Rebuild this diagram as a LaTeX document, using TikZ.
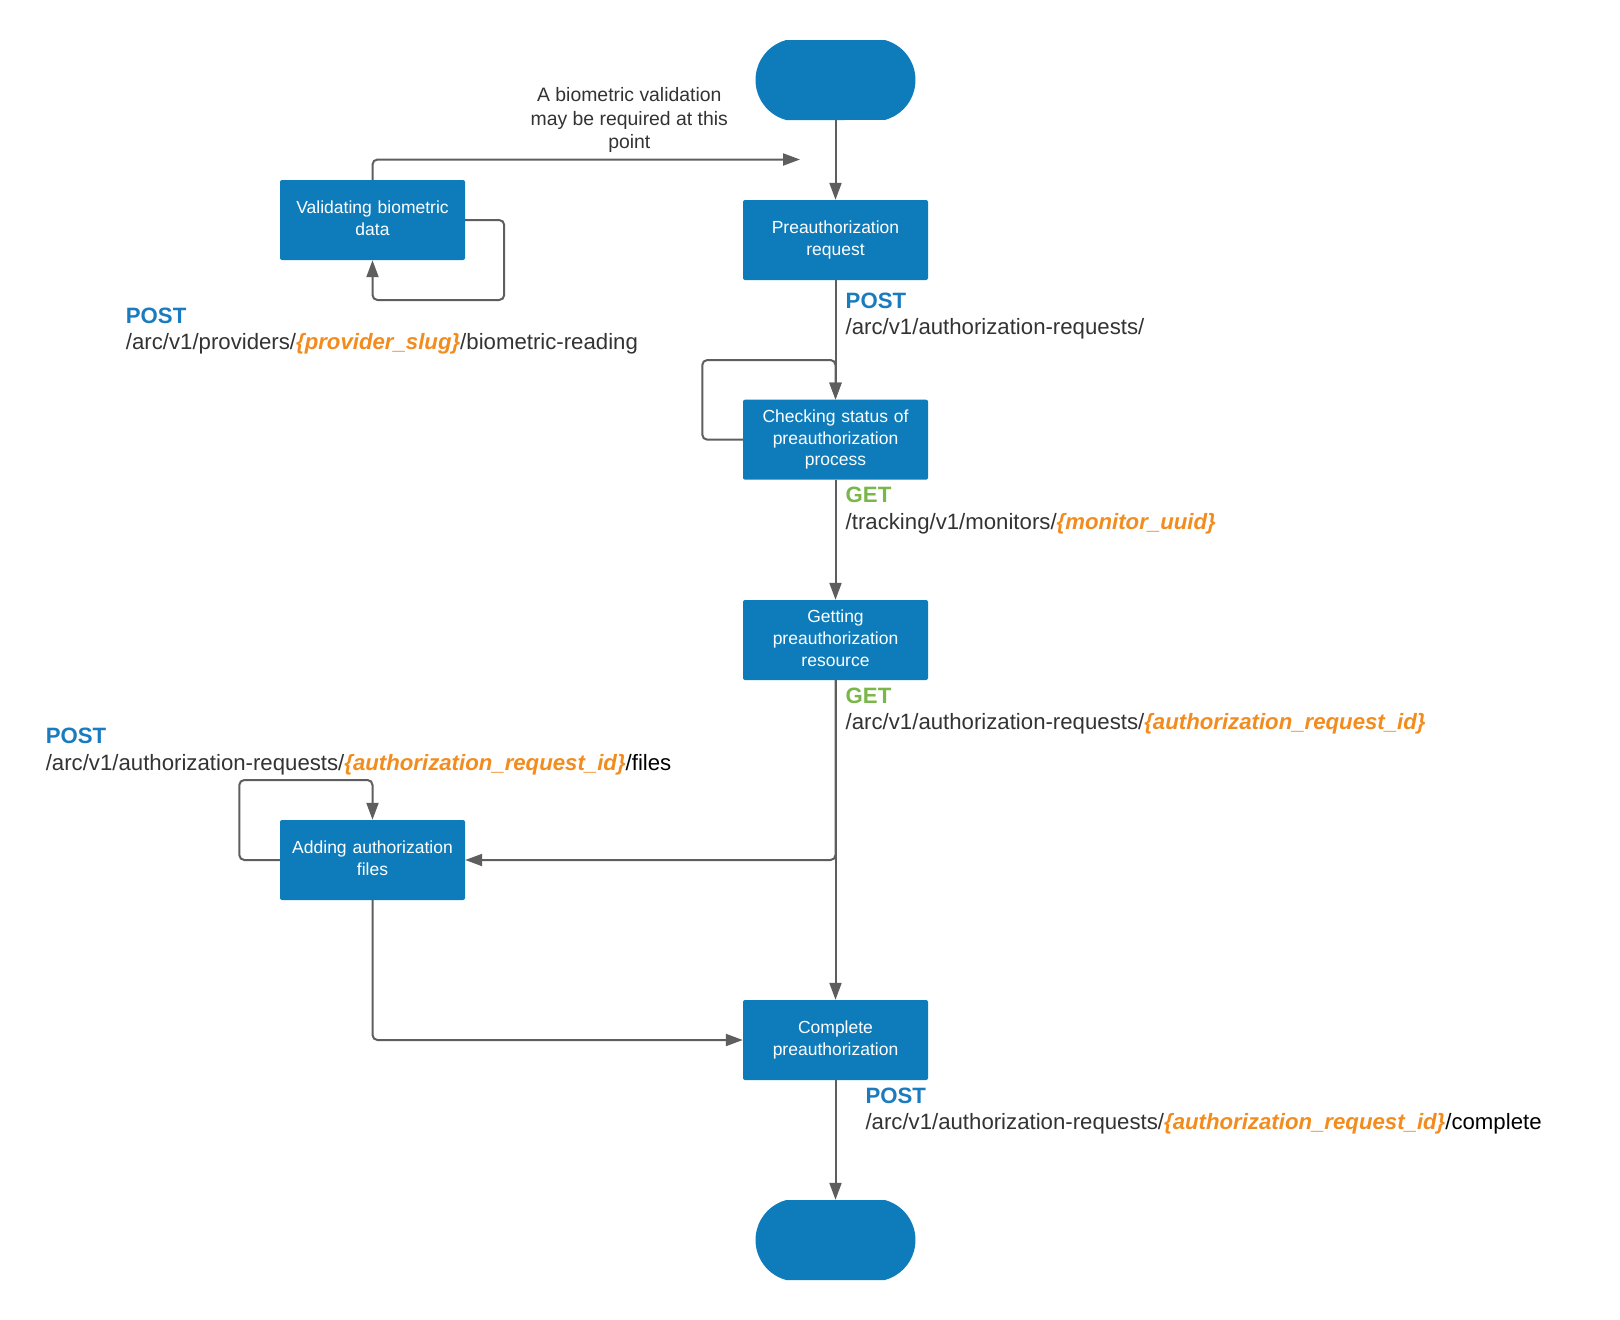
\documentclass[tikz,border=0pt]{standalone}
\usepackage{fontspec}
\setmainfont{Liberation Sans}
\usetikzlibrary{arrows.meta,shapes.misc}
\definecolor{boxblue}{HTML}{0E7CBB}
\definecolor{linegray}{HTML}{5E5E5E}
\definecolor{postblue}{HTML}{1A7BBE}
\definecolor{getgreen}{HTML}{7AB648}
\definecolor{varorange}{HTML}{F28C1E}
\definecolor{txtgray}{HTML}{333333}
\newcommand{\varpart}[1]{{\color{varorange}\bfseries\itshape #1}}
\begin{document}
\begin{tikzpicture}[x=1pt,y=-1pt,
  stepbox/.style={fill=boxblue, draw=none, rounded corners=2pt, minimum width=185pt, minimum height=80pt, text width=175pt, align=center, text=white, font=\fontsize{17.5}{21.7}\selectfont, inner sep=0pt},
  terminal/.style={fill=boxblue, draw=none, rounded rectangle, rounded rectangle arc length=150, minimum width=160pt, minimum height=80pt, inner sep=0pt},
  conn/.style={draw=linegray, line width=2pt, rounded corners=5pt, -{Triangle[length=17pt,width=12pt]}},
  method/.style={anchor=base west, font=\fontsize{22.2}{26}\selectfont\bfseries, inner sep=0pt},
  route/.style={anchor=base west, font=\fontsize{22.2}{26}\selectfont, text=txtgray, inner sep=0pt},
  note/.style={align=center, font=\fontsize{19.4}{23.6}\selectfont, text=txtgray, inner sep=0pt}
]
\fill[white] (0,0) rectangle (1620,1320);
\useasboundingbox (0,0) rectangle (1620,1320);

% nodes
\node[terminal] (start) at (835.5,80) {};
\node[stepbox] (preauth) at (835.5,240) {\strut Preauthorization\\request\strut};
\node[stepbox] (validate) at (372.5,220) {\strut Validating biometric\\data\strut};
\node[stepbox] (checking) at (835.5,439.7) {\strut Checking status of\\preauthorization\\process\strut};
\node[stepbox] (getting) at (835.5,640) {\strut Getting\\preauthorization\\resource\strut};
\node[stepbox] (adding) at (372.5,860) {\strut Adding authorization\\files\strut};
\node[stepbox] (complete) at (835.5,1040) {\strut Complete\\preauthorization\strut};
\node[terminal] (end) at (835.5,1240) {};

\coordinate (noteEnd) at (800,159.5);

% connectors
\draw[conn] (start) -- (preauth);
\draw[conn] (validate.north) |- (noteEnd);
\draw[conn] (validate.east) -- ++(39,0) -- ++(0,80) -| (validate.south);
\draw[conn] (preauth) -- (checking);
\draw[conn] (checking.west) -- ++(-40.5,0) -- ++(0,-79.7) -| (checking.north);
\draw[conn] (checking) -- (getting);
\draw[conn] (getting) -- (complete);
\draw[conn] (getting.south) |- (adding.east);
\draw[conn] (adding.west) -- ++(-40.5,0) -- ++(0,-80) -| (adding.north);
\draw[conn] (adding.south) |- (complete.west);
\draw[conn] (complete) -- (end);

% labels
\node[note] (note) at (629.3,120) {A biometric validation\\may be required at this\\point};
\node[method, text=postblue] (m1) at (845.5,308.3) {POST};
\node[route] (r1) at (845.5,334.3) {/arc/v1/authorization-requests/};
\node[method, text=postblue] (m2) at (125.7,323.5) {POST};
\node[route] (r2) at (125.7,349.5) {/arc/v1/providers/\varpart{\{provider\_slug\}}/biometric-reading};
\node[method, text=getgreen] (m3) at (845.5,502.3) {GET};
\node[route] (r3) at (845.5,529) {/tracking/v1/monitors/\varpart{\{monitor\_uuid\}}};
\node[method, text=getgreen] (m4) at (845.5,703) {GET};
\node[route] (r4) at (845.5,729) {/arc/v1/authorization-requests/\varpart{\{authorization\_request\_id\}}};
\node[method, text=postblue] (m5) at (45.6,743.3) {POST};
\node[route] (r5) at (45.6,770) {/arc/v1/authorization-requests/\varpart{\{authorization\_request\_id\}}{\color{black}/files}};
\node[method, text=postblue] (m6) at (865.3,1103.3) {POST};
\node[route] (r6) at (865.3,1129) {/arc/v1/authorization-requests/\varpart{\{authorization\_request\_id\}}{\color{black}/complete}};
\end{tikzpicture}
\end{document}
